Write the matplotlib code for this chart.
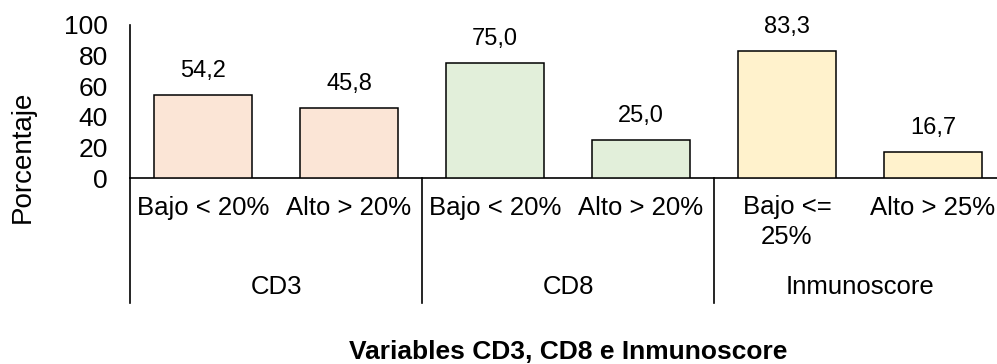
import matplotlib
matplotlib.use("Agg")
import matplotlib.pyplot as plt

plt.rcParams['font.family'] = ['Liberation Sans', 'DejaVu Sans']

# Bars grouped by variable
groups = ["CD3", "CD8", "Inmunoscore"]
categories = ["Bajo < 20%", "Alto > 20%",
              "Bajo < 20%", "Alto > 20%",
              "Bajo <=\n25%", "Alto > 25%"]
values = [54.2, 45.8, 75.0, 25.0, 83.3, 16.7]
value_labels = ["54,2", "45,8", "75,0", "25,0", "83,3", "16,7"]
group_colors = ["#FBE5D6", "#E2EFDA", "#FFF2CC"]

W, H = 997, 364
fig = plt.figure(figsize=(W / 100, H / 100), dpi=100)

# plot area in pixels: left 130, top 25, bottom 178, right 1006 (runs past the edge)
ax_left, ax_top, ax_bot, ax_right = 130, 25, 178, 1006
ax = fig.add_axes([ax_left / W, 1 - ax_bot / H,
                   (ax_right - ax_left) / W, (ax_bot - ax_top) / H])

ax_h = ax_bot - ax_top


def ypix(py):
    # pixel row below the axes -> axes fraction
    return (ax_bot - py) / ax_h


x = list(range(len(values)))
colors = [group_colors[i // 2] for i in x]
ax.bar(x, values, width=0.67, color=colors, edgecolor="black", linewidth=1.1, zorder=3)

for xi, v, lab in zip(x, values, value_labels):
    ax.text(xi, v + 15.7, lab, ha="center", va="center", fontsize=17)

ax.set_xlim(-0.5, len(values) - 0.5)
ax.set_ylim(0, 100)
ax.set_yticks([0, 20, 40, 60, 80, 100])
ax.tick_params(axis="y", length=0, pad=16, labelsize=19)
ax.set_xticks([])

for s in ["top", "right"]:
    ax.spines[s].set_visible(False)
ax.spines["left"].set_linewidth(1.2)
ax.spines["bottom"].set_linewidth(1.2)

# category labels under each bar
xtr = ax.get_xaxis_transform()
for xi, lab in zip(x, categories):
    if "\n" in lab:
        ax.text(xi, ypix(195), lab, ha="center", va="top", fontsize=18.5,
                transform=xtr, linespacing=1.3)
    else:
        ax.text(xi, ypix(208), lab, ha="center", va="center", fontsize=18.5,
                transform=xtr)

# group names
for gi, g in enumerate(groups):
    ax.text(gi * 2 + 0.5, ypix(287), g, ha="center", va="center",
            fontsize=18.5, transform=xtr)

# group separators
for bx in [-0.5, 1.5, 3.5, 5.5]:
    ax.plot([bx, bx], [0, ypix(303)], color="black", linewidth=1.2,
            transform=xtr, clip_on=False)

fig.text(23 / W, 1 - 157 / H, "Porcentaje", rotation=90, ha="center", va="center",
         fontsize=20)
fig.text(568 / W, 1 - 359 / H, "Variables CD3, CD8 e Inmunoscore", ha="center",
         va="baseline", fontsize=19, fontweight="bold")

fig.savefig("out.png", dpi=100)
